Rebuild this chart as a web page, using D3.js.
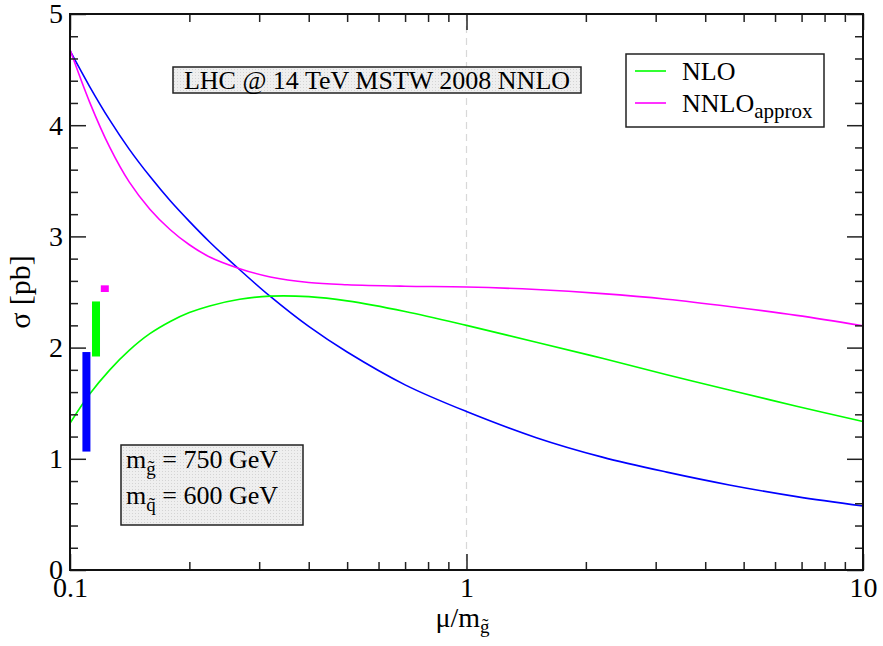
<!DOCTYPE html>
<html>
<head>
<meta charset="utf-8">
<script src="https://cdn.jsdelivr.net/npm/d3@7"></script>
<style>
  html, body { margin: 0; padding: 0; background: #fff; }
  svg { display: block; font-family: "Liberation Serif", "DejaVu Serif", serif; }
</style>
</head>
<body>
<div id="chart"></div>
<script>
// canvas size
const width = 883
const height = 646
const margin = { top: 14, right: 20, bottom: 76, left: 70 }

// scale values mu/m_gluino
const muGrid = [0.1, 0.112, 0.126, 0.141, 0.159, 0.179, 0.2, 0.225, 0.268, 0.32, 0.4, 0.5, 0.7, 1, 1.5, 2.2, 3.2, 4.6, 6.8, 10]
// cross sections [pb]
const sigmaLO = [4.67, 4.35, 4.045, 3.785, 3.54, 3.32, 3.135, 2.95, 2.70, 2.46, 2.19, 1.96, 1.665, 1.425, 1.19, 1.015, 0.88, 0.765, 0.66, 0.576]
const sigmaNLO = [1.32, 1.58, 1.80, 1.975, 2.125, 2.235, 2.315, 2.375, 2.435, 2.463, 2.458, 2.42, 2.325, 2.20, 2.048, 1.904, 1.756, 1.619, 1.473, 1.335]
const sigmaNNLO = [4.68, 4.21, 3.80, 3.49, 3.245, 3.06, 2.925, 2.815, 2.71, 2.635, 2.585, 2.565, 2.552, 2.545, 2.522, 2.485, 2.435, 2.37, 2.29, 2.196]

// scale-uncertainty bands drawn at the left edge
const bandMu = [0.110, 0.1163, 0.1224]
const bandLow = [1.065, 1.92, 2.50]
const bandHigh = [1.96, 2.415, 2.56]
const bandColor = ["#0000ff", "#00ff00", "#ff00ff"]

// axis ticks
const xMajor = [0.1, 1, 10]
const xMinor = [0.2, 0.3, 0.4, 0.5, 0.6, 0.7, 0.8, 0.9, 2, 3, 4, 5, 6, 7, 8, 9]
const yMajor = [0, 1, 2, 3, 4, 5]
const yMinor = d3.range(0, 25).map(i => +(i * 0.2).toFixed(1)).filter(v => v % 1 !== 0)

const svg = d3.select("#chart").append("svg")
  .attr("width", width)
  .attr("height", height)

const defs = svg.append("defs")
const pat = defs.append("pattern")
  .attr("id", "dots")
  .attr("width", 3)
  .attr("height", 3)
  .attr("patternUnits", "userSpaceOnUse")
pat.append("rect").attr("width", 3).attr("height", 3).attr("fill", "#efefef")
pat.append("rect").attr("width", 1).attr("height", 1).attr("fill", "#d4d4d4")

const x = d3.scaleLog()
  .domain([0.1, 10])
  .range([margin.left, width - margin.right])

const y = d3.scaleLinear()
  .domain([0, 5])
  .range([height - margin.bottom, margin.top])

const x0 = x.range()[0], x1 = x.range()[1]
const y0 = y.range()[0], y1 = y.range()[1]

// dashed line at mu = m_gluino
svg.append("line")
  .attr("x1", x(1)).attr("x2", x(1))
  .attr("y1", y1).attr("y2", y0)
  .attr("stroke", "#d8d8d8")
  .attr("stroke-width", 1.2)
  .attr("stroke-dasharray", "7,5")

// curves
const line = d3.line()
  .x((d, i) => x(muGrid[i]))
  .y(d => y(d))
  .curve(d3.curveCatmullRom.alpha(0.5))

const series = [
  { vals: sigmaLO, color: "#0000ff" },
  { vals: sigmaNLO, color: "#00ff00" },
  { vals: sigmaNNLO, color: "#ff00ff" }
]

svg.selectAll(".curve")
  .data(series)
  .enter()
  .append("path")
  .attr("class", "curve")
  .attr("d", d => line(d.vals))
  .attr("fill", "none")
  .attr("stroke", d => d.color)
  .attr("stroke-width", 1.6)

// bands
svg.selectAll(".band")
  .data(bandMu)
  .enter()
  .append("rect")
  .attr("class", "band")
  .attr("x", d => x(d) - 4)
  .attr("width", 8)
  .attr("y", (d, i) => y(bandHigh[i]))
  .attr("height", (d, i) => y(bandLow[i]) - y(bandHigh[i]))
  .attr("fill", (d, i) => bandColor[i])

// axes: ticks point inwards on all four sides
function styleAxis(g) {
  g.select(".domain").remove()
  g.selectAll(".tick line").attr("stroke", "#222").attr("stroke-width", 1.5)
  g.selectAll("text").attr("font-family", "Liberation Serif").attr("font-size", 28).attr("fill", "#000")
}

svg.append("g")
  .attr("transform", `translate(0,${y0})`)
  .call(d3.axisBottom(x).tickValues(xMajor).tickSize(-16).tickPadding(7).tickFormat(d3.format("")))
  .call(styleAxis)
svg.append("g")
  .attr("transform", `translate(0,${y0})`)
  .call(d3.axisBottom(x).tickValues(xMinor).tickSize(-8).tickFormat(""))
  .call(styleAxis)
svg.append("g")
  .attr("transform", `translate(0,${y1})`)
  .call(d3.axisTop(x).tickValues(xMajor).tickSize(-16).tickFormat(""))
  .call(styleAxis)
svg.append("g")
  .attr("transform", `translate(0,${y1})`)
  .call(d3.axisTop(x).tickValues(xMinor).tickSize(-8).tickFormat(""))
  .call(styleAxis)

svg.append("g")
  .attr("transform", `translate(${x0},0)`)
  .call(d3.axisLeft(y).tickValues(yMajor).tickSize(-16).tickPadding(7).tickFormat(d3.format("d")))
  .call(styleAxis)
svg.append("g")
  .attr("transform", `translate(${x0},0)`)
  .call(d3.axisLeft(y).tickValues(yMinor).tickSize(-8).tickFormat(""))
  .call(styleAxis)
svg.append("g")
  .attr("transform", `translate(${x1},0)`)
  .call(d3.axisRight(y).tickValues(yMajor).tickSize(-16).tickFormat(""))
  .call(styleAxis)
svg.append("g")
  .attr("transform", `translate(${x1},0)`)
  .call(d3.axisRight(y).tickValues(yMinor).tickSize(-8).tickFormat(""))
  .call(styleAxis)

// frame
svg.append("rect")
  .attr("x", x0).attr("y", y1)
  .attr("width", x1 - x0).attr("height", y0 - y1)
  .attr("fill", "none")
  .attr("stroke", "#111")
  .attr("stroke-width", 2)

// axis titles
svg.append("text")
  .attr("transform", `translate(30,292) rotate(-90)`)
  .attr("text-anchor", "middle")
  .attr("font-size", 30)
  .text("σ [pb]")

const xt = svg.append("text")
  .attr("x", 458)
  .attr("y", 627)
  .attr("font-size", 28)
xt.append("tspan").text("μ/m")
xt.append("tspan").attr("font-size", 19).attr("dy", 6).text("g̃")
xt.attr("x", x(1) - 31)

// title box
svg.append("rect")
  .attr("x", 173).attr("y", 67)
  .attr("width", 408).attr("height", 26)
  .attr("fill", "url(#dots)")
  .attr("stroke", "#222")
  .attr("stroke-width", 1.5)
svg.append("text")
  .attr("x", 377).attr("y", 89)
  .attr("text-anchor", "middle")
  .attr("font-size", 26)
  .text("LHC @ 14 TeV MSTW 2008 NNLO")

// legend
const legend = svg.append("g")
legend.append("rect")
  .attr("x", 626).attr("y", 54)
  .attr("width", 198).attr("height", 73)
  .attr("fill", "#fff")
  .attr("stroke", "#222")
  .attr("stroke-width", 1.5)
const legendItems = [
  { label: "NLO", sub: "", color: "#00ff00", yy: 71 },
  { label: "NNLO", sub: "approx", color: "#ff00ff", yy: 103 }
]
legend.selectAll(".li")
  .data(legendItems)
  .enter()
  .append("line")
  .attr("x1", 635).attr("x2", 666)
  .attr("y1", d => d.yy).attr("y2", d => d.yy)
  .attr("stroke", d => d.color)
  .attr("stroke-width", 1.6)
legend.selectAll(".lt")
  .data(legendItems)
  .enter()
  .append("text")
  .attr("x", 682)
  .attr("y", d => d.yy + 9)
  .attr("font-size", 26)
  .each(function (d) {
    d3.select(this).append("tspan").text(d.label)
    if (d.sub) {
      d3.select(this).append("tspan").attr("font-size", 21).attr("dy", 6).text(d.sub)
    }
  })

// mass box
svg.append("rect")
  .attr("x", 121).attr("y", 445)
  .attr("width", 182).attr("height", 80)
  .attr("fill", "url(#dots)")
  .attr("stroke", "#222")
  .attr("stroke-width", 1.5)
const massLines = [
  { sub: "g̃", rest: " = 750 GeV", yy: 468 },
  { sub: "q̃", rest: " = 600 GeV", yy: 504 }
]
svg.selectAll(".mass")
  .data(massLines)
  .enter()
  .append("text")
  .attr("x", 126)
  .attr("y", d => d.yy)
  .attr("font-size", 26)
  .each(function (d) {
    const t = d3.select(this)
    t.append("tspan").text("m")
    t.append("tspan").attr("font-size", 19).attr("dy", 7).text(d.sub)
    t.append("tspan").attr("dy", -7).text(d.rest)
  })
</script>
</body>
</html>
